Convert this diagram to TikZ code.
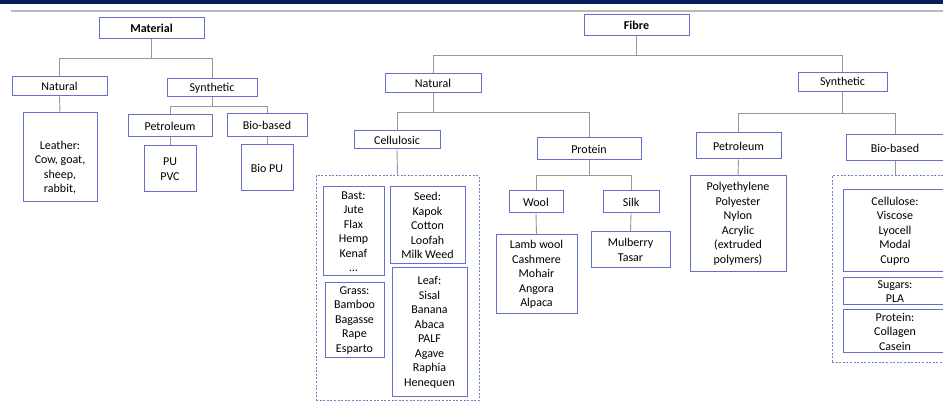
\documentclass[tikz,border=0pt]{standalone}
\usepackage{fontspec}
\setmainfont{Carlito}
\definecolor{bandnavy}{RGB}{8, 30, 92}
\definecolor{rulegray}{RGB}{185, 185, 185}
\definecolor{boxblue}{RGB}{100, 112, 205}
\definecolor{linkgray}{RGB}{150, 150, 160}
\definecolor{framegray}{RGB}{120, 128, 190}
\usepackage{tikz}
\usetikzlibrary{positioning, calc}

\begin{document}
\begin{tikzpicture}[x=1pt, y=-1pt,
  box/.style={draw=boxblue, line width=1pt, fill=white, align=center, inner sep=1pt,
    font=\fontsize{12}{14.5}\selectfont},
  head/.style={box, font=\fontsize{12}{14.5}\selectfont\bfseries},
  group/.style={draw=framegray, line width=1pt, dash pattern=on 2pt off 1.6pt, inner sep=0pt},
  link/.style={draw=linkgray, line width=0.9pt}]

  \useasboundingbox (0, 0) rectangle (943, 403);
  \clip (0, 0) rectangle (943, 403);
  \fill[white] (0, 0) rectangle (943, 403);

  % Slide header
  \fill[bandnavy] (0, 0) rectangle (943, 4);
  \draw[rulegray, line width=1.5pt] (11, 11) -- (943, 11);

  % Material tree
  \node[head, minimum width=105pt, minimum height=21pt] (mat) at (151.5, 28.5) {Material};
  \node[box, minimum width=95pt, minimum height=19pt] (mnat) at (59.5, 86.5) {Natural};
  \node[box, minimum width=90pt, minimum height=18pt] (msyn) at (212, 88) {Synthetic};
  \node[box, minimum width=74pt, minimum height=89pt] (leather) at (60, 157.5) {\mbox{}\\[14pt]Leather:\\Cow, goat,\\sheep,\\rabbit,};
  \node[box, minimum width=84pt, minimum height=22pt] (mpet) at (170, 126) {Petroleum};
  \node[box, minimum width=80pt, minimum height=23pt] (mbio) at (267, 125.5) {Bio-based};
  \node[box, minimum width=52pt, minimum height=46pt] (pu) at (170, 169) {PU\\PVC};
  \node[box, minimum width=52pt, minimum height=46pt] (biopu) at (267, 168) {Bio PU};

  \draw[link] (mat.south) -- ++(0, 19) -| (mnat.north);
  \draw[link] (mat.south) -- ++(0, 19) -| (msyn.north);
  \draw[link] (msyn.south) -- ++(0, 9) -| (mpet.north);
  \draw[link] (msyn.south) -- ++(0, 9) -| (mbio.north);
  \draw[link] (mnat.south) -- (leather.north);
  \draw[link] (mpet.south) -- (pu.north);
  \draw[link] (mbio.south) -- (biopu.north);

  % Fibre tree
  \node[head, minimum width=105pt, minimum height=21pt] (fibre) at (636.5, 25.5) {Fibre};
  \node[box, minimum width=96pt, minimum height=19pt] (fnat) at (433, 83.5) {Natural};
  \node[box, minimum width=89pt, minimum height=19pt] (fsyn) at (842.5, 82.5) {Synthetic};
  \node[box, minimum width=86pt, minimum height=18pt] (cellu) at (397, 140) {Cellulosic};
  \node[box, minimum width=104pt, minimum height=22pt] (prot) at (589, 149) {Protein};
  \node[box, minimum width=85pt, minimum height=26pt] (fpet) at (738.5, 146) {Petroleum};
  \node[box, minimum width=98pt, minimum height=26pt] (fbio) at (895, 148) {Bio-based};

  % Cellulosic group
  \node[group, minimum width=163pt, minimum height=225pt] (cellframe) at (397.5, 288.5) {};
  \node[box, minimum width=61pt, minimum height=89pt] (bast) at (353.5, 231.5) {Bast:\\Jute\\Flax\\Hemp\\Kenaf\\\dots};
  \node[box, minimum width=75pt, minimum height=77pt] (seed) at (427.5, 225.5) {Seed:\\Kapok\\Cotton\\Loofah\\Milk Weed};
  \node[box, minimum width=59pt, minimum height=75pt] (grass) at (354.5, 320.5) {Grass:\\Bamboo\\Bagasse\\Rape\\Esparto};
  \node[box, minimum width=75pt, minimum height=129pt] (leaf) at (429.5, 332.5) {Leaf:\\Sisal\\Banana\\Abaca\\PALF\\Agave\\Raphia\\Henequen};

  % Protein branch
  \node[box, minimum width=54pt, minimum height=22pt] (wool) at (536, 202) {Wool};
  \node[box, minimum width=56pt, minimum height=22pt] (silk) at (631, 202) {Silk};
  \node[box, minimum width=81pt, minimum height=79pt] (woollist) at (536.5, 274.5) {Lamb wool\\Cashmere\\Mohair\\Angora\\Alpaca};
  \node[box, minimum width=79pt, minimum height=36pt] (silklist) at (630.5, 250) {Mulberry\\Tasar};

  % Synthetic branch
  \node[box, minimum width=96pt, minimum height=96pt] (fpetlist) at (738, 224) {Polyethylene\\Polyester\\Nylon\\Acrylic\\(extruded\\polymers)};
  \node[group, minimum width=126pt, minimum height=187pt] (bioframe) at (895, 269.5) {};
  \node[box, minimum width=104pt, minimum height=82pt] (cellulose) at (895, 231) {Cellulose:\\Viscose\\Lyocell\\Modal\\Cupro};
  \node[box, minimum width=104pt, minimum height=27pt, inner ysep=0pt] (sugars) at (895, 291.5) {Sugars:\\PLA};
  \node[box, minimum width=104pt, minimum height=43pt, inner ysep=0pt] (bprot) at (895, 331.5) {Protein:\\Collagen\\Casein};

  \draw[link] (fibre.south) -- ++(0, 19) -| (fnat.north);
  \draw[link] (fibre.south) -- ++(0, 19) -| (fsyn.north);
  \draw[link] (fnat.south) -- ++(0, 19) -| (cellu.north);
  \draw[link] (fnat.south) -- ++(0, 19) -| (prot.north);
  \draw[link] (fsyn.south) -- ++(0, 21) -| (fpet.north);
  \draw[link] (fsyn.south) -- ++(0, 21) -| (fbio.north);
  \draw[link] (cellu.south) -- (cellframe.north);
  \draw[link] (prot.south) -- ++(0, 15) -| (wool.north);
  \draw[link] (prot.south) -- ++(0, 15) -| (silk.north);
  \draw[link] (wool.south) -- (woollist.north);
  \draw[link] (silk.south) -- (silklist.north);
  \draw[link] (fpet.south) -- (fpetlist.north);
  \draw[link] (fbio.south) -- (bioframe.north);
\end{tikzpicture}
\end{document}
